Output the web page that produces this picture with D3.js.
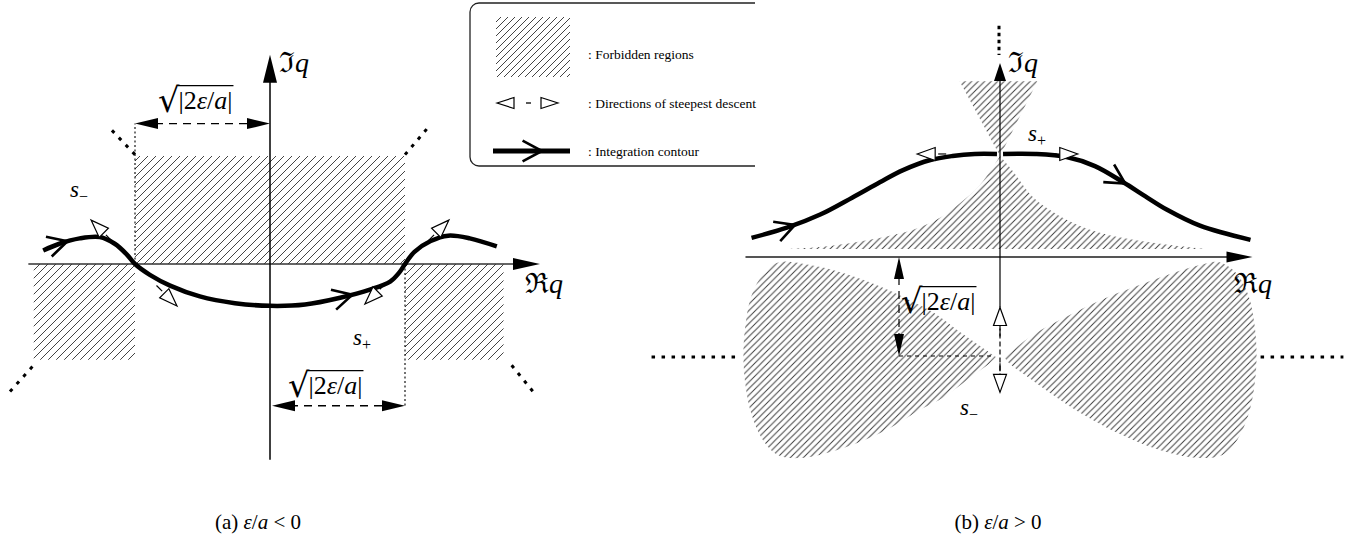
<!DOCTYPE html>
<html>
<head>
<meta charset="utf-8">
<script src="https://cdn.jsdelivr.net/npm/d3@7"></script>
<style>
  body { margin: 0; background: #fff; }
  svg { display: block; }
  text { font-family: "Liberation Serif", "DejaVu Serif", serif; fill: #000; }
</style>
</head>
<body>
<script>
// all coordinates in units of sqrt|2eps/a|, origin where the axes cross

// (a) eps/a < 0
const aRegions = [
  [[-1, 0], [1, 0], [1, 0.80], [-1, 0.80]],
  [[-1.75, 0], [-1, 0], [-1, -0.71], [-1.75, -0.71]],
  [[1, 0], [1.73, 0], [1.73, -0.71], [1, -0.71]]
]
const aContour = [[-1.68, 0.10], [-1.56, 0.15], [-1.41, 0.19], [-1.26, 0.20], [-1.15, 0.15], [-1.06, 0.07], [-1, 0],
  [-0.89, -0.08], [-0.74, -0.16], [-0.52, -0.24], [-0.26, -0.29], [0, -0.31], [0.26, -0.30], [0.52, -0.25],
  [0.74, -0.19], [0.89, -0.13], [0.96, -0.06], [1, 0], [1.07, 0.09], [1.19, 0.17], [1.32, 0.21], [1.48, 0.19], [1.68, 0.13]]
const aArrowsAt = [-1.50, 0.61]
const aSaddles = [[-1, 0], [1, 0]]
const aDescent = [
  { s: 0, ang: 135, d: 0.46 }, { s: 0, ang: -45, d: 0.44 },
  { s: 1, ang: -135, d: 0.42 }, { s: 1, ang: 45, d: 0.46 }
]
const aDotted = [
  [[-1, 0.81], [-1.19, 1.01]], [[1, 0.81], [1.17, 1.01]],
  [[-1.76, -0.76], [-1.94, -0.96]], [[1.79, -0.75], [1.96, -0.96]]
]

// (b) eps/a > 0
const bCone = [[-0.40, 1.74], [0.37, 1.74], [0, 1.0]]
const bCuspLeft = [[-2.11, 0.08], [-1.68, 0.11], [-1.29, 0.17], [-0.86, 0.27], [-0.59, 0.39], [-0.40, 0.53], [-0.20, 0.71], [0, 1.0]]
const bCuspRight = [[0, 1.0], [0.12, 0.86], [0.33, 0.59], [0.66, 0.37], [0.99, 0.24], [1.32, 0.17], [1.68, 0.12], [2.05, 0.08]]
const bLobeLeft = [[-0.04, -0.99], [-0.40, -0.74], [-0.66, -0.55], [-0.99, -0.38], [-1.29, -0.25], [-1.58, -0.15], [-1.88, -0.08],
  [-2.18, -0.05], [-2.33, -0.15], [-2.46, -0.38], [-2.52, -0.67], [-2.54, -0.97], [-2.52, -1.27], [-2.46, -1.56],
  [-2.35, -1.81], [-2.20, -1.96], [-1.98, -1.99], [-1.55, -1.89], [-1.12, -1.71], [-0.79, -1.51], [-0.56, -1.39],
  [-0.33, -1.22], [-0.10, -1.05], [-0.04, -0.99]]
const bLobeRight = [[0.04, -0.99], [0.33, -0.77], [0.66, -0.59], [0.99, -0.43], [1.32, -0.30], [1.68, -0.17], [1.98, -0.08],
  [2.16, -0.05], [2.33, -0.15], [2.46, -0.38], [2.52, -0.67], [2.54, -0.97], [2.52, -1.27], [2.46, -1.56],
  [2.35, -1.81], [2.20, -1.96], [1.98, -1.99], [1.58, -1.91], [1.14, -1.73], [0.74, -1.51], [0.50, -1.35],
  [0.28, -1.19], [0.10, -1.06], [0.04, -0.99]]
const bContourLeft = [[-2.46, 0.19], [-2.11, 0.29], [-1.78, 0.42], [-1.46, 0.59], [-1.19, 0.74], [-0.96, 0.86],
  [-0.69, 0.96], [-0.47, 1.00], [-0.25, 1.02], [-0.03, 1.02]]
const bContourRight = [[0.03, 1.02], [0.35, 1.02], [0.66, 0.99], [0.94, 0.90], [1.22, 0.74], [1.44, 0.60],
  [1.65, 0.47], [1.98, 0.31], [2.48, 0.17]]
const bArrowsAt = [-2.03, 1.24]
const bSaddles = [[0, 1.02], [0, -0.99]]
const bDescent = [
  { s: 0, ang: 180, d: 0.82 }, { s: 0, ang: 0, d: 0.77 },
  { s: 1, ang: 90, d: 0.49 }, { s: 1, ang: -90, d: 0.35 }
]
const bDotted = [[[-3.45, -0.99], [-2.60, -0.99]], [[2.58, -0.99], [3.40, -0.99]]]

const legendLabels = [': Forbidden regions', ': Directions of steepest descent', ': Integration contour']

const svg = d3.select('body').append('svg').attr('width', 1361).attr('height', 556)
const defs = svg.append('defs')

function hatch(id, s) {
  defs.append('pattern').attr('id', id).attr('patternUnits', 'userSpaceOnUse')
    .attr('width', s).attr('height', s)
    .append('path')
    .attr('d', `M${-s / 2},${s / 2}L${s / 2},${-s / 2}M0,${s}L${s},0M${s / 2},${1.5 * s}L${1.5 * s},${s / 2}`)
    .attr('stroke', '#3a3a3a').attr('stroke-width', 0.95)
}
hatch('hA', 8)
hatch('hB', 6.5)
hatch('hL', 7)

const xA = d3.scaleLinear().domain([-1, 1]).range([135, 405])
const yA = d3.scaleLinear().domain([0, 1]).range([264, 129])
const xB = d3.scaleLinear().domain([0, 1]).range([1000, 1101])
const yB = d3.scaleLinear().domain([0, 1]).range([257, 156])

const line = (x, y, curve) => d3.line().x(d => x(d[0])).y(d => y(d[1])).curve(curve || d3.curveLinear)

function head(g, tip, ang, len, hw) {
  const c = Math.cos(ang), s = Math.sin(ang)
  const bx = tip[0] - c * len, by = tip[1] - s * len
  g.append('path').attr('d', `M${tip[0]},${tip[1]}L${bx - s * hw},${by + c * hw}L${bx + s * hw},${by - c * hw}Z`).attr('fill', '#000')
}

function chevron(g, tip, ang) {
  const L = 22, sp = 28 * Math.PI / 180
  const p1 = [tip[0] - L * Math.cos(ang - sp), tip[1] - L * Math.sin(ang - sp)]
  const p2 = [tip[0] - L * Math.cos(ang + sp), tip[1] - L * Math.sin(ang + sp)]
  g.append('path').attr('d', `M${p1}L${tip}L${p2}`)
    .attr('fill', 'none').attr('stroke', '#000').attr('stroke-width', 2.6)
}

// chevron sitting on a path where the path reaches pixel x
function chevronAt(g, pathNode, px) {
  const total = pathNode.getTotalLength()
  let lo = 0, hi = total
  for (let i = 0; i < 40; i++) {
    const mid = (lo + hi) / 2
    if (pathNode.getPointAtLength(mid).x < px) lo = mid; else hi = mid
  }
  const p = pathNode.getPointAtLength(lo)
  const p0 = pathNode.getPointAtLength(Math.max(0, lo - 2)), p1 = pathNode.getPointAtLength(Math.min(total, lo + 2))
  chevron(g, [p.x, p.y], Math.atan2(p1.y - p0.y, p1.x - p0.x))
}

function openTri(g, tip, a, len, hw) {
  const c = Math.cos(a), s = Math.sin(a)
  const b = [tip[0] - c * len, tip[1] - s * len]
  g.append('path').attr('d', `M${tip}L${b[0] - s * hw},${b[1] + c * hw}L${b[0] + s * hw},${b[1] - c * hw}Z`)
    .attr('fill', '#fff').attr('stroke', '#000').attr('stroke-width', 1.2)
}

function descent(g, sx, sy, angDeg, D) {
  const a = -angDeg * Math.PI / 180, c = Math.cos(a), s = Math.sin(a)
  const P = t => [sx + c * t, sy + s * t]
  g.append('line').attr('x1', P(D - 29)[0]).attr('y1', P(D - 29)[1]).attr('x2', P(D - 21)[0]).attr('y2', P(D - 21)[1])
    .attr('stroke', '#000').attr('stroke-width', 1.2)
  openTri(g, P(D), a, 18, 6.5)
}

function sqrtLabel(g, x, y, size) {
  const r = g.append('text').attr('x', x).attr('y', y + 3)
    .style('font-family', '"DejaVu Sans"').style('font-size', (size * 1.3) + 'px').text('√')
  const rw = r.node().getComputedTextLength()
  const t = g.append('text').attr('x', x + rw - 1).attr('y', y).style('font-size', size + 'px')
  t.append('tspan').text('|2')
  t.append('tspan').style('font-style', 'italic').text('ε')
  t.append('tspan').text('/')
  t.append('tspan').style('font-style', 'italic').text('a')
  t.append('tspan').text('|')
  const tw = t.node().getComputedTextLength()
  const oy = y - size * 0.9
  g.append('line').attr('x1', x + rw - 2).attr('x2', x + rw + tw).attr('y1', oy).attr('y2', oy)
    .attr('stroke', '#000').attr('stroke-width', 1.2)
}

function axisLabel(g, x, y, sym) {
  const t = g.append('text').attr('x', x).attr('y', y).style('font-size', '28px')
  t.append('tspan').style('font-family', '"DejaVu Serif"').text(sym)
  t.append('tspan').style('font-style', 'italic').text('q')
}

function sLabel(g, x, y, sub) {
  const t = g.append('text').attr('x', x).attr('y', y).style('font-size', '23px')
  t.append('tspan').style('font-style', 'italic').text('s')
  t.append('tspan').attr('dy', 5).style('font-size', '16px').text(sub)
}

const dots = { stroke: '#000', 'stroke-width': 3, 'stroke-dasharray': '3.5,6.5', fill: 'none' }
const applyDots = function () { const s = d3.select(this); Object.entries(dots).forEach(([k, v]) => s.attr(k, v)) }

// ---------- panel (a) ----------
const ga = svg.append('g')
ga.selectAll('.reg').data(aRegions).enter().append('path')
  .attr('d', d => line(xA, yA)(d) + 'Z').attr('fill', 'url(#hA)')

ga.selectAll('.dot').data(aDotted).enter().append('path')
  .attr('d', d => line(xA, yA)(d)).each(applyDots)

// extension lines and dimension arrows
ga.append('line').attr('x1', xA(-1)).attr('x2', xA(-1)).attr('y1', yA(0)).attr('y2', yA(1.04))
  .attr('stroke', '#000').attr('stroke-width', 1.1).attr('stroke-dasharray', '2,2.5')
ga.append('line').attr('x1', xA(1)).attr('x2', xA(1)).attr('y1', yA(0)).attr('y2', yA(-1.05))
  .attr('stroke', '#000').attr('stroke-width', 1.1).attr('stroke-dasharray', '2,2.5')
ga.append('line').attr('x1', xA(-1) + 20).attr('x2', xA(0) - 20).attr('y1', yA(1.04)).attr('y2', yA(1.04))
  .attr('stroke', '#000').attr('stroke-width', 1.3).attr('stroke-dasharray', '8,6')
head(ga, [xA(-1), yA(1.04)], Math.PI, 23, 5.5)
head(ga, [xA(0), yA(1.04)], 0, 23, 5.5)
ga.append('line').attr('x1', xA(0) + 20).attr('x2', xA(1) - 20).attr('y1', yA(-1.05)).attr('y2', yA(-1.05))
  .attr('stroke', '#000').attr('stroke-width', 1.3).attr('stroke-dasharray', '8,6')
head(ga, [xA(0) + 2, yA(-1.05)], Math.PI, 23, 5.5)
head(ga, [xA(1), yA(-1.05)], 0, 23, 5.5)

// axes
ga.append('line').attr('x1', xA(-1.79)).attr('x2', xA(2.0) - 20).attr('y1', yA(0)).attr('y2', yA(0))
  .attr('stroke', '#333').attr('stroke-width', 1.5)
head(ga, [xA(2.0), yA(0)], 0, 27, 6)
ga.append('line').attr('x1', xA(0)).attr('x2', xA(0)).attr('y1', yA(-1.45)).attr('y2', yA(1.55) + 20)
  .attr('stroke', '#000').attr('stroke-width', 1.5)
head(ga, [xA(0), yA(1.55)], -Math.PI / 2, 28, 7)

// contour
const pa = ga.append('path').attr('d', line(xA, yA, d3.curveCatmullRom)(aContour))
  .attr('fill', 'none').attr('stroke', '#000').attr('stroke-width', 4.5)
aArrowsAt.forEach(u => chevronAt(ga, pa.node(), xA(u)))

aDescent.forEach(d => {
  const s = aSaddles[d.s]
  descent(ga, xA(s[0]), yA(s[1]), d.ang, xA(d.d) - xA(0))
})

sqrtLabel(ga, 158, 109, 26)
sqrtLabel(ga, 288, 394, 26)
axisLabel(ga, 279, 72, 'ℑ')
axisLabel(ga, 525, 293, 'ℜ')
sLabel(ga, 70, 197, '−')
sLabel(ga, 353, 345, '+')

// ---------- panel (b) ----------
const gb = svg.append('g')
gb.append('path').attr('d', line(xB, yB)(bCone) + 'Z').attr('fill', 'url(#hB)')
const lcr = line(xB, yB, d3.curveCatmullRom)
gb.append('path').attr('d', lcr(bCuspLeft) + lcr(bCuspRight).replace(/^M/, 'L') + 'Z').attr('fill', 'url(#hB)')
gb.selectAll('.lobe').data([bLobeLeft, bLobeRight]).enter().append('path')
  .attr('d', d => lcr(d) + 'Z').attr('fill', 'url(#hB)')

gb.selectAll('.dot').data(bDotted).enter().append('path')
  .attr('d', d => line(xB, yB)(d)).each(applyDots)
gb.append('line').attr('x1', xB(0) - 1).attr('x2', xB(0) - 1).attr('y1', yB(2.29)).attr('y2', yB(2.0))
  .attr('stroke', '#000').attr('stroke-width', 3).attr('stroke-dasharray', '3.5,3.5')

// Re axis
gb.append('line').attr('x1', xB(-2.52)).attr('x2', xB(2.5) - 20).attr('y1', yB(0)).attr('y2', yB(0))
  .attr('stroke', '#555').attr('stroke-width', 1.8)
head(gb, [xB(2.5), yB(0)], 0, 26, 5.5)

// dimension arrow
gb.append('line').attr('x1', xB(-1)).attr('x2', xB(-1)).attr('y1', yB(0) + 20).attr('y2', yB(-0.98) - 20)
  .attr('stroke', '#000').attr('stroke-width', 1.2).attr('stroke-dasharray', '8,6')
head(gb, [xB(-1), yB(0)], -Math.PI / 2, 22, 5)
head(gb, [xB(-1), yB(-0.98)], Math.PI / 2, 22, 5)
gb.append('line').attr('x1', xB(-1)).attr('x2', xB(-0.05)).attr('y1', yB(-0.98)).attr('y2', yB(-0.98))
  .attr('stroke', '#000').attr('stroke-width', 1.1).attr('stroke-dasharray', '4,4')

// contour
const pbl = gb.append('path').attr('d', lcr(bContourLeft)).attr('fill', 'none').attr('stroke', '#000').attr('stroke-width', 4.5)
const pbr = gb.append('path').attr('d', lcr(bContourRight)).attr('fill', 'none').attr('stroke', '#000').attr('stroke-width', 4.5)
chevronAt(gb, pbl.node(), xB(bArrowsAt[0]))
chevronAt(gb, pbr.node(), xB(bArrowsAt[1]))

// Im axis
const upperTip = bSaddles[1][1] + bDescent[2].d
gb.append('line').attr('x1', xB(0)).attr('x2', xB(0)).attr('y1', yB(upperTip)).attr('y2', yB(1.92) + 16)
  .attr('stroke', '#000').attr('stroke-width', 1.2)
head(gb, [xB(0), yB(1.92)], -Math.PI / 2, 18, 6)

bDescent.forEach(d => {
  const s = bSaddles[d.s]
  descent(gb, xB(s[0]), yB(s[1]), d.ang, xB(d.d) - xB(0))
})
gb.append('line').attr('x1', xB(0)).attr('x2', xB(0))
  .attr('y1', yB(upperTip) + 18).attr('y2', yB(bSaddles[1][1] - bDescent[3].d) - 18)
  .attr('stroke', '#000').attr('stroke-width', 1.2).attr('stroke-dasharray', '5,3')

sqrtLabel(gb, 901, 310, 26)
axisLabel(gb, 1008, 72, 'ℑ')
axisLabel(gb, 1234, 293, 'ℜ')
sLabel(gb, 1028, 141, '+')
sLabel(gb, 960, 415, '−')

// ---------- legend ----------
const gl = svg.append('g')
defs.append('clipPath').attr('id', 'legClip').append('rect').attr('x', 0).attr('y', 0).attr('width', 755).attr('height', 200)
gl.append('rect').attr('x', 470).attr('y', 3).attr('width', 400).attr('height', 163).attr('rx', 9)
  .attr('fill', 'none').attr('stroke', '#222').attr('stroke-width', 1.3).attr('clip-path', 'url(#legClip)')
gl.append('rect').attr('x', 496).attr('y', 17).attr('width', 74).attr('height', 60).attr('fill', 'url(#hL)')
openTri(gl, [497, 103], Math.PI, 17, 5.5)
gl.append('line').attr('x1', 526).attr('x2', 531).attr('y1', 103).attr('y2', 103).attr('stroke', '#000').attr('stroke-width', 1.3)
openTri(gl, [558, 103], 0, 17, 5.5)
gl.append('line').attr('x1', 493).attr('x2', 570).attr('y1', 151).attr('y2', 151).attr('stroke', '#000').attr('stroke-width', 5)
chevron(gl, [542, 151], 0)
gl.selectAll('.lt').data(legendLabels).enter().append('text')
  .attr('x', 588).attr('y', (d, i) => [59, 108, 156][i]).style('font-size', '13.5px').text(d => d)

// ---------- captions ----------
function caption(x, tag, rel) {
  const t = svg.append('text').attr('x', x).attr('y', 529).attr('text-anchor', 'middle').style('font-size', '21px')
  t.append('tspan').text(tag + ' ')
  t.append('tspan').style('font-style', 'italic').text('ε')
  t.append('tspan').text('/')
  t.append('tspan').style('font-style', 'italic').text('a')
  t.append('tspan').text(' ' + rel + ' 0')
}
caption(258, '(a)', '<')
caption(998, '(b)', '>')
</script>
</body>
</html>
